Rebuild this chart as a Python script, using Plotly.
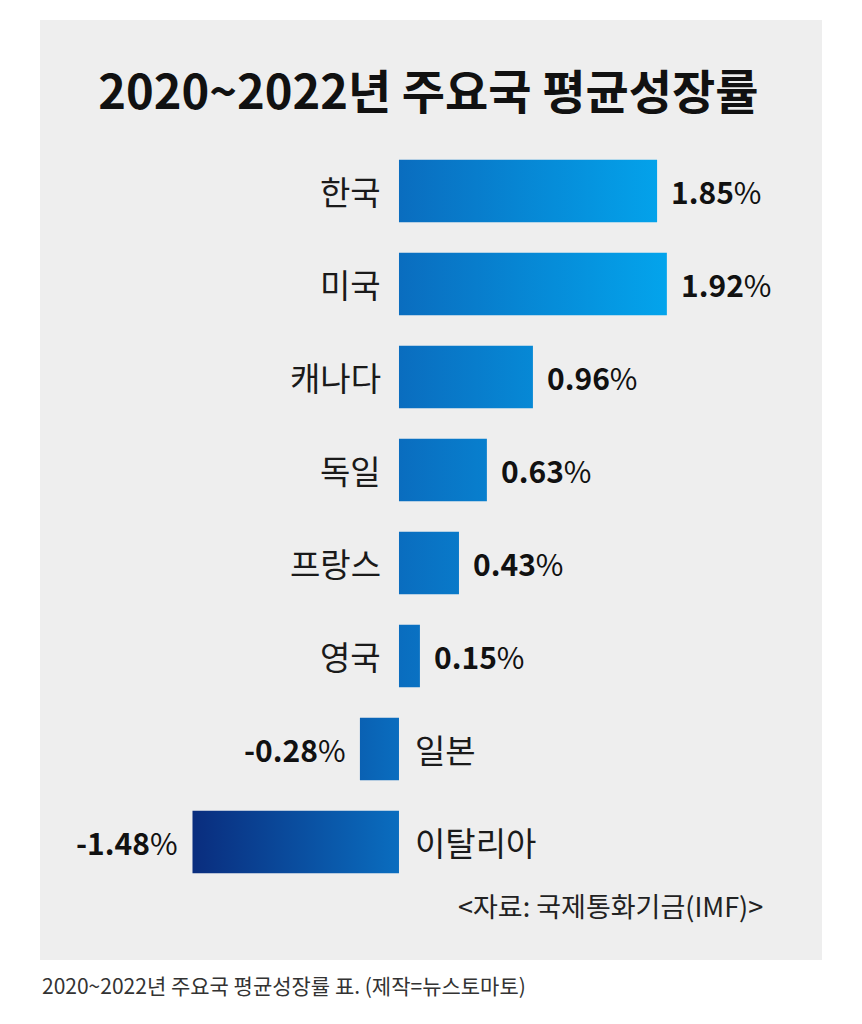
import plotly.graph_objects as go

# ---- data ----
countries = ["한국", "미국", "캐나다", "독일", "프랑스", "영국", "일본", "이탈리아"]
growth = [1.85, 1.92, 0.96, 0.63, 0.43, 0.15, -0.28, -1.48]
title_text = "2020~2022년 주요국 평균성장률"
source_text = "&lt;자료: 국제통화기금(IMF)&gt;"
caption_text = "2020~2022년 주요국 평균성장률 표. (제작=뉴스토마토)"

FONT = "Noto Sans CJK KR"
HALF = 0.335
lo, hi = min(growth), max(growth)
zero_pos = (0 - lo) / (hi - lo)
gradient = [[0.0, "#0a2d7e"], [zero_pos, "#0a6dbf"], [1.0, "#03a4ec"]]

fig = go.Figure()
for i, (c, v) in enumerate(zip(countries, growth)):
    fig.add_trace(go.Scatter(
        x=[0, v, v, 0, 0],
        y=[i - HALF, i - HALF, i + HALF, i + HALF, i - HALF],
        mode="lines", fill="toself",
        line=dict(width=0, color="rgba(0,0,0,0)"),
        fillgradient=dict(type="horizontal", colorscale=gradient, start=lo, stop=hi),
        hoverinfo="skip", showlegend=False,
    ))

annotations = []
for i, (c, v) in enumerate(zip(countries, growth)):
    pos = v >= 0
    # country label
    annotations.append(dict(
        x=0, y=i, xref="x", yref="y", text=c, showarrow=False,
        xanchor="right" if pos else "left", yanchor="middle",
        xshift=-16 if pos else 14,
        font=dict(family=FONT, size=33, color="#1a1a1a"),
    ))
    # value label
    annotations.append(dict(
        x=v, y=i, xref="x", yref="y",
        text=f"<b>{v:.2f}</b>%", showarrow=False,
        xanchor="left" if pos else "right", yanchor="middle",
        xshift=12 if pos else -12,
        font=dict(family=FONT, size=30, color="#111111"),
    ))

annotations.append(dict(
    x=0.927, y=0.0585, xref="paper", yref="paper", text=source_text,
    showarrow=False, xanchor="right", yanchor="middle",
    font=dict(family=FONT, size=27, color="#222222"),
))
annotations.append(dict(
    x=0.0, y=-0.027, xref="paper", yref="paper", text=caption_text,
    showarrow=False, xanchor="left", yanchor="middle",
    font=dict(family=FONT, size=21, color="#333333"),
))

fig.update_layout(
    width=862, height=1024,
    margin=dict(l=40, r=40, t=20, b=64),
    paper_bgcolor="white", plot_bgcolor="#eeeeee",
    title=dict(text=f"<b>{title_text}</b>", x=0.497, xanchor="center",
               y=1 - 93 / 1024, yref="container", yanchor="middle",
               font=dict(family=FONT, size=47, color="#111111")),
    xaxis=dict(range=[-2.573, 3.032], visible=False, fixedrange=True),
    yaxis=dict(range=[8.269, -1.839], visible=False, fixedrange=True),
    annotations=annotations,
    showlegend=False,
)

fig.write_html("out.html")
